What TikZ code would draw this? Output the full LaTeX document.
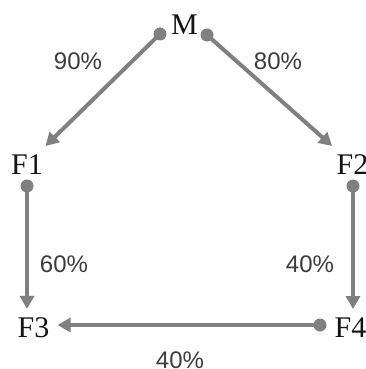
\documentclass[tikz,border=0pt]{standalone}
\usepackage{fontspec}
\setmainfont{Liberation Serif}
\newfontfamily\pctfont{Liberation Sans}
\usepackage{tikz}
\usetikzlibrary{arrows.meta, positioning, calc}
\definecolor{mygrey}{RGB}{128,128,128}
\definecolor{mytext}{RGB}{20,20,20}
\definecolor{mypct}{RGB}{60,60,60}
\tikzset{
  firm/.style={inner sep=8pt, anchor=base, text=mytext,
    font=\fontsize{30}{36}\selectfont},
  pct/.style={inner sep=0pt, anchor=base, text=mypct,
    font=\pctfont\fontsize{24}{28}\selectfont},
  flow/.style={-{Triangle[length=13pt,width=14pt]}, line width=4pt, color=mygrey},
  dot/.style={fill=mygrey}
}
\begin{document}
\begin{tikzpicture}[x=1pt, y=-1pt]
  \useasboundingbox (0,0) rectangle (366,369);

  % Companies
  \node[firm] (M)  at (184.5,35)  {M};
  \node[firm] (F1) at (27,174)    {F1};
  \node[firm] (F2) at (352.5,174) {F2};
  \node[firm] (F3) at (33.5,337)  {F3};
  \node[firm] (F4) at (350.5,337) {F4};

  % Start points of the holdings
  \coordinate (m1) at (160,34);
  \coordinate (m2) at (207,35);
  \coordinate (f1) at (27,186);
  \coordinate (f2) at (353,186);
  \coordinate (f4) at (320,325);

  % Holdings
  \draw[flow] (m1) -- (F1);
  \draw[flow] (m2) -- (F2);
  \draw[flow] (f1) -- (f1 |- F3.north);
  \draw[flow] (f2) -- (f2 |- F4.north);
  \draw[flow] (f4) -- (f4 -| F3.east);
  \foreach \p in {m1, m2, f1, f2, f4}
    \fill[dot] (\p) circle (6.5pt);

  % Shares
  \node[pct] (p1) at (78,70)   {90\%};
  \node[pct] (p2) at (278,70)  {80\%};
  \node[pct] (p3) at (64,272)  {60\%};
  \node[pct] (p4) at (310,272) {40\%};
  \node[pct] (p5) at (180,368) {40\%};
\end{tikzpicture}
\end{document}
